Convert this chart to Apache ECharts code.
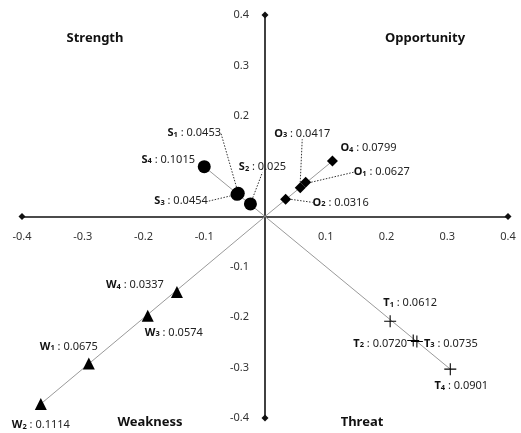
<!DOCTYPE html>
<html>
<head>
<meta charset="utf-8">
<script src="https://cdn.jsdelivr.net/npm/echarts@6/dist/echarts.min.js"></script>
<style>
html,body{margin:0;padding:0;background:#fff;}
#chart{width:521px;height:433px;}
</style>
</head>
<body>
<div id="chart"></div>
<script>
// ---- data ----
const axisTicks = [-0.4, -0.3, -0.2, -0.1, 0, 0.1, 0.2, 0.3, 0.4];
const hiddenYTicks = [0, 0.1];   // 0.1 on the y axis sits under the S2 label in the original
const quadrantNames = ['Strength', 'Opportunity', 'Weakness', 'Threat'];

const sLetter = 'S';
const sIndex = ['1', '2', '3', '4'];
const sWeight = ['0.0453', '0.025', '0.0454', '0.1015'];
const sX = [-0.044, -0.024, -0.046, -0.100];
const sY = [0.046, 0.025, 0.044, 0.099];

const oLetter = 'O';
const oIndex = ['1', '2', '3', '4'];
const oWeight = ['0.0627', '0.0316', '0.0417', '0.0799'];
const oX = [0.067, 0.034, 0.058, 0.111];
const oY = [0.068, 0.034, 0.057, 0.110];

const wLetter = 'W';
const wIndex = ['1', '2', '3', '4'];
const wWeight = ['0.0675', '0.1114', '0.0574', '0.0337'];
const wX = [-0.290, -0.369, -0.193, -0.145];
const wY = [-0.292, -0.372, -0.197, -0.150];

const tLetter = 'T';
const tIndex = ['1', '2', '3', '4'];
const tWeight = ['0.0612', '0.0720', '0.0735', '0.0901'];
const tX = [0.206, 0.244, 0.250, 0.305];
const tY = [-0.208, -0.246, -0.248, -0.303];

// ---- label layout (style, not data): offset of label centre from the mark, leader on/off ----
const sLab = [[-44, -60, true], [12, -37, true], [-56, 7, true], [-36, -7, false]];
const oLab = [[76, -10, true], [55, 3, true], [2, -54, true], [36, -13, false]];
const wLab = [[-20, -17, false], [0, 21, false], [26, 17, false], [-42, -7, false]];
const tLab = [[20, -18, false], [-33, 3, false], [34, 2, false], [11, 17, false]];

const FONT = 'Noto Sans';
const GRID = { left: 22, right: 13, top: 15, bottom: 15 };
const W = 521, H = 433;

function fmtX(v) {
  if (Math.abs(v) < 1e-9) return '';
  return (Math.round(v * 10) / 10).toFixed(1);
}
function fmtY(v) {
  if (hiddenYTicks.some(h => Math.abs(h - v) < 1e-9)) return '';
  return (Math.round(v * 10) / 10).toFixed(1);
}

const rich = {
  b: { fontFamily: FONT, fontWeight: 'bold', fontSize: 11, color: '#111', verticalAlign: 'bottom' },
  n: { fontFamily: FONT, fontWeight: 'bold', fontSize: 7.5, color: '#111', verticalAlign: 'bottom' },
  v: { fontFamily: FONT, fontSize: 11, color: '#222', verticalAlign: 'bottom' }
};

function buildData(letter, idx, weight, xs, ys) {
  return xs.map((x, i) => ({
    value: [x, ys[i]],
    labelText: '{b|' + letter + '}{n|' + idx[i] + '}{v| : ' + weight[i] + '}'
  }));
}

function farthest(xs, ys) {
  let best = 0;
  xs.forEach((x, i) => { if (Math.abs(x) + Math.abs(ys[i]) > Math.abs(xs[best]) + Math.abs(ys[best])) best = i; });
  return [[0, 0], [xs[best], ys[best]]];
}

function scatterSeries(name, data, lab, symbol, size) {
  return {
    name: name,
    type: 'scatter',
    symbol: symbol,
    symbolSize: size,
    z: 5,
    itemStyle: { color: '#000', opacity: 1 },
    data: data.map((d, i) => ({
      value: d.value,
      label: { formatter: d.labelText },
      labelLine: { show: lab[i][2] }
    })),
    label: { show: true, rich: rich, color: '#111' },
    labelLine: {
      show: false,
      length2: 0,
      smooth: false,
      lineStyle: { color: '#333', width: 1, type: [1.5, 1.5] }
    },
    labelLayout: function (p) {
      const o = lab[p.dataIndex];
      return {
        x: p.rect.x + p.rect.width / 2 + o[0],
        y: p.rect.y + p.rect.height / 2 + o[1],
        align: 'center',
        verticalAlign: 'middle',
        hideOverlap: false
      };
    },
    emphasis: { disabled: true }
  };
}

function lineSeries(xs, ys) {
  return {
    type: 'line',
    data: farthest(xs, ys),
    symbol: 'none',
    z: 2,
    lineStyle: { color: '#9a9a9a', width: 1 },
    silent: true
  };
}

const plusPath = 'path://M4.55,0 H5.45 V4.55 H10 V5.45 H5.45 V10 H4.55 V5.45 H0 V4.55 H4.55 Z';

const chart = echarts.init(document.getElementById('chart'), null, { renderer: 'canvas' });

function axisCommon(extra) {
  return Object.assign({
    type: 'value',
    min: axisTicks[0],
    max: axisTicks[axisTicks.length - 1],
    interval: 0.1,
    axisLine: {
      show: true,
      onZero: false,
      symbol: ['diamond', 'diamond'],
      symbolSize: [7, 7],
      lineStyle: { color: '#111', width: 1.6 }
    },
    axisTick: { show: false },
    splitLine: { show: false }
  }, extra);
}

const gridW = W - GRID.left - GRID.right;
const gridH = H - GRID.top - GRID.bottom;

const option = {
  animation: false,
  backgroundColor: '#fff',
  grid: Object.assign({ containLabel: false, outerBoundsMode: 'none' }, GRID),
  xAxis: axisCommon({
    position: 'bottom',
    offset: -gridH / 2,
    axisLabel: { formatter: fmtX, color: '#333', fontFamily: FONT, fontSize: 11, margin: 15 }
  }),
  yAxis: axisCommon({
    position: 'left',
    offset: -gridW / 2,
    axisLabel: { formatter: fmtY, color: '#333', fontFamily: FONT, fontSize: 11, margin: 16 }
  }),
  graphic: [
    { type: 'text', x: 95, y: 38, style: { text: quadrantNames[0], textAlign: 'center', textVerticalAlign: 'middle', font: 'bold 13px "' + FONT + '"', fill: '#111' } },
    { type: 'text', x: 425, y: 38, style: { text: quadrantNames[1], textAlign: 'center', textVerticalAlign: 'middle', font: 'bold 13px "' + FONT + '"', fill: '#111' } },
    { type: 'text', x: 150, y: 422, style: { text: quadrantNames[2], textAlign: 'center', textVerticalAlign: 'middle', font: 'bold 13px "' + FONT + '"', fill: '#111' } },
    { type: 'text', x: 362, y: 422, style: { text: quadrantNames[3], textAlign: 'center', textVerticalAlign: 'middle', font: 'bold 13px "' + FONT + '"', fill: '#111' } }
  ],
  series: [
    lineSeries(sX, sY),
    lineSeries(oX, oY),
    lineSeries(wX, wY),
    lineSeries(tX, tY),
    scatterSeries('S', buildData(sLetter, sIndex, sWeight, sX, sY), sLab, 'circle', 13),
    scatterSeries('O', buildData(oLetter, oIndex, oWeight, oX, oY), oLab, 'diamond', 11),
    scatterSeries('W', buildData(wLetter, wIndex, wWeight, wX, wY), wLab, 'triangle', 12),
    scatterSeries('T', buildData(tLetter, tIndex, tWeight, tX, tY), tLab, plusPath, 12)
  ]
};

chart.setOption(option);
</script>
</body>
</html>
